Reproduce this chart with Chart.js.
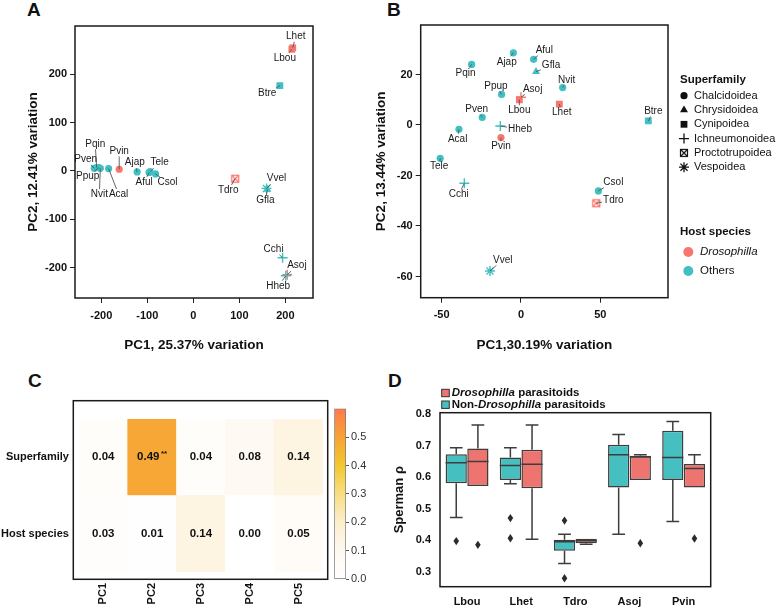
<!DOCTYPE html>
<html>
<head>
<meta charset="utf-8">
<script src="https://cdn.jsdelivr.net/npm/chart.js@4/dist/chart.umd.min.js"></script>
<style>
  body { margin: 0; width: 778px; height: 608px; background: #fff; position: relative; overflow: hidden; }
  canvas { position: absolute; }
  .tag { position: absolute; font: bold 19px/19px 'Liberation Sans', Arial, sans-serif; color: #111; }
</style>
</head>
<body>
<div class="tag" style="left:27px;top:0">A</div>
<div class="tag" style="left:387px;top:0">B</div>
<div class="tag" style="left:28px;top:371px">C</div>
<div class="tag" style="left:388px;top:371px">D</div>
<canvas id="pcaA" width="322" height="360" style="left:0;top:0"></canvas>
<canvas id="pcaB" width="408" height="360" style="left:370px;top:0"></canvas>
<canvas id="heat" width="330" height="248" style="left:0;top:360px"></canvas>
<canvas id="cbar" width="52" height="190" style="left:326px;top:400px"></canvas>
<canvas id="box" width="388" height="248" style="left:390px;top:360px"></canvas>
<script>
// ---- data ----
const species = ['Lbou', 'Lhet', 'Tdro', 'Asoj', 'Pvin', 'Pqin', 'Ajap', 'Aful', 'Gfla', 'Nvit',
  'Ppup', 'Btre', 'Pven', 'Hheb', 'Acal', 'Tele', 'Cchi', 'Csol', 'Vvel'];
const superfamily = ['Cynipoidea', 'Cynipoidea', 'Proctotrupoidea', 'Ichneumonoidea', 'Chalcidoidea',
  'Chalcidoidea', 'Chalcidoidea', 'Chalcidoidea', 'Chrysidoidea', 'Chalcidoidea', 'Chalcidoidea',
  'Cynipoidea', 'Chalcidoidea', 'Ichneumonoidea', 'Chalcidoidea', 'Chalcidoidea', 'Ichneumonoidea',
  'Chalcidoidea', 'Vespoidea'];
const host = ['Drosophilla', 'Drosophilla', 'Drosophilla', 'Drosophilla', 'Drosophilla',
  'Others', 'Others', 'Others', 'Others', 'Others', 'Others', 'Others', 'Others', 'Others',
  'Others', 'Others', 'Others', 'Others', 'Others'];

// panel A
const pc1A = [214, 216, 91, 204, -161, -210, -122, -96, 161, -202, -205, 188, -215, 201, -184, -94, 194, -82, 159];
const pc2A = [251, 254, -16, -214, 3.5, 7, -2, -3, -38, 5.5, 7, 176, 5.5, -216, 5, -1.5, -179, -6, -36];
// panel B
const pc1B = [-1, 24.2, 47.5, 0, -12.6, -31.1, -4.8, 8.0, 9.5, 26.3, -12.2, 80.3, -24.4, -13.0, -39.1, -50.9, -35.7, 48.8, -19.5];
const pc2B = [10, 8.3, -31.0, 11, -5.0, 24.0, 28.6, 26.0, 21.1, 14.8, 12.1, 1.6, 3.0, -0.4, -1.7, -13.2, -23.1, -26.1, -57.8];

const superfamilies = ['Chalcidoidea', 'Chrysidoidea', 'Cynipoidea', 'Ichneumonoidea', 'Proctotrupoidea', 'Vespoidea'];
const hosts = ['Drosophilla', 'Others'];

// panel C
const pcLabels = ['PC1', 'PC2', 'PC3', 'PC4', 'PC5'];
const heatRows = ['Host species', 'Superfamily'];
const superR2 = [0.04, 0.49, 0.04, 0.08, 0.14];
const hostR2 = [0.03, 0.01, 0.14, 0.00, 0.05];
const superSig = ['', '**', '', '', ''];
const hostSig = ['', '', '', '', ''];
const cbarTicks = [0, 0.1, 0.2, 0.3, 0.4, 0.5];
const cbarMax = 0.6;

// panel D
const boxCats = ['Lbou', 'Lhet', 'Tdro', 'Asoj', 'Pvin'];
const nonLow  = [0.472, 0.579, 0.326, 0.419, 0.459];
const nonQ1   = [0.581, 0.591, 0.366, 0.567, 0.591];
const nonMed  = [0.646, 0.637, 0.395, 0.671, 0.663];
const nonQ3   = [0.673, 0.663, 0.401, 0.703, 0.748];
const nonHigh = [0.694, 0.694, 0.419, 0.736, 0.777];
const nonOut  = [[0.397], [0.470, 0.406], [0.462, 0.279], [], []];
const droLow  = [0.572, 0.403, 0.387, 0.591, 0.567];
const droQ1   = [0.572, 0.565, 0.390, 0.591, 0.567];
const droMed  = [0.650, 0.641, 0.398, 0.664, 0.628];
const droQ3   = [0.691, 0.687, 0.404, 0.668, 0.642];
const droHigh = [0.766, 0.766, 0.405, 0.671, 0.671];
const droOut  = [[0.385], [], [], [0.390], [0.405]];

// ---- label placement (pixel offsets from the point) ----
const labelOffA = {
  Lhet: [3, -11.5], Lbou: [-7, 9], Btre: [-12.7, 8], Pqin: [-1.4, -23.7], Pven: [-8.6, -9],
  Ppup: [-11.3, 9], Nvit: [-1, 26.4], Acal: [10, 26], Pvin: [0, -18.3], Ajap: [-2.3, -9.3],
  Tele: [9.6, -9], Aful: [-5, 10], Csol: [12, 8.7], Tdro: [-7, 11.7], Vvel: [10, -9.7],
  Gfla: [-2, 11.3], Cchi: [-9, -8.4], Asoj: [9.7, -9], Hheb: [-7.7, 10.5]
};
const labelOffB = {
  Pqin: [-6, 8.4], Ajap: [-6.6, 9], Aful: [10.6, -9.3], Gfla: [15, -6], Nvit: [4, -7.7],
  Ppup: [-5.7, -8.6], Asoj: [11.7, -8.3], Lbou: [0, 11], Lhet: [2.4, 8.7], Btre: [5, -10],
  Pven: [-5.6, -8], Hheb: [19.7, 3.3], Acal: [-1.3, 10], Pvin: [0, 9], Tele: [-1, 8.4],
  Cchi: [-5.6, 11], Csol: [15, -8.7], Tdro: [17, -3.3], Vvel: [12.7, -11]
};

// ---- styling ----
const FONT = "'Liberation Sans', Arial, sans-serif";
Chart.defaults.font.family = FONT;
Chart.defaults.color = '#111';
Chart.defaults.animation = false;
Chart.defaults.events = [];

const RED = '#F8766D', TEAL = '#3FC0C3';
const BOX_RED = '#EE7470', BOX_TEAL = '#45BFC0';
const hostColor = h => h === 'Drosophilla' ? RED : TEAL;

function boxedCross(color) {
  const c = document.createElement('canvas');
  c.width = 10; c.height = 10;
  const g = c.getContext('2d');
  g.strokeStyle = color; g.lineWidth = 1.2;
  g.strokeRect(1.5, 1.5, 7, 7);
  g.beginPath(); g.moveTo(1.5, 1.5); g.lineTo(8.5, 8.5); g.moveTo(8.5, 1.5); g.lineTo(1.5, 8.5); g.stroke();
  return c;
}
const boxX = { Drosophilla: boxedCross(RED), Others: boxedCross(TEAL), legend: boxedCross('#111') };

const shapeOf = {
  Chalcidoidea: { style: 'circle', r: 3.6, line: false },
  Chrysidoidea: { style: 'triangle', r: 4.6, line: false },
  Cynipoidea: { style: 'rect', r: 4.8, line: false },
  Ichneumonoidea: { style: 'cross', r: 5, line: true },
  Proctotrupoidea: { style: 'boxX', r: 5, line: true },
  Vespoidea: { style: 'star', r: 5, line: true }
};
const styleFor = (sf, h) => shapeOf[sf].style === 'boxX' ? boxX[h] : shapeOf[sf].style;

const framePlugin = {
  id: 'frame',
  afterDraw(chart, args, opts) {
    const { ctx, chartArea: a } = chart;
    const [l, t, r, b] = opts.pad || [0, 0, 0, 0];
    ctx.save();
    ctx.strokeStyle = '#1a1a1a';
    ctx.lineWidth = 1.5;
    ctx.strokeRect(a.left - l, a.top - t, a.width + l + r, a.height + t + b);
    ctx.restore();
  }
};

const pointLabels = {
  id: 'pointLabels',
  afterDatasetsDraw(chart, args, opts) {
    const { ctx } = chart;
    const pts = chart.getDatasetMeta(0).data;
    ctx.save();
    ctx.font = '10px ' + FONT;
    ctx.textAlign = 'center';
    ctx.textBaseline = 'middle';
    pts.forEach((p, i) => {
      const name = species[i];
      const [dx, dy] = opts.offsets[name];
      const lx = p.x + dx, ly = p.y + dy;
      const hw = ctx.measureText(name).width / 2 + 1, hh = 5.5;
      const sx = dx ? hw / Math.abs(dx) : Infinity;
      const sy = dy ? hh / Math.abs(dy) : Infinity;
      const s = Math.min(sx, sy);
      if (s < 1) {
        ctx.strokeStyle = '#555';
        ctx.lineWidth = 0.9;
        ctx.beginPath();
        ctx.moveTo(p.x, p.y);
        ctx.lineTo(lx - dx * s, ly - dy * s);
        ctx.stroke();
      }
      ctx.fillStyle = '#1a1a1a';
      ctx.fillText(name, lx, ly);
    });
    ctx.restore();
  }
};

const pcaLegend = {
  id: 'pcaLegend',
  afterDraw(chart) {
    const { ctx } = chart;
    ctx.save();
    ctx.textBaseline = 'middle';
    ctx.fillStyle = '#111';
    ctx.strokeStyle = '#111';
    ctx.font = 'bold 11.5px ' + FONT;
    ctx.fillText('Superfamily', 310, 80);
    superfamilies.forEach((sf, i) => {
      const y = 95.7 + i * 14.3;
      const sh = shapeOf[sf];
      ctx.lineWidth = 1.3;
      Chart.helpers.drawPoint(ctx, {
        pointStyle: sh.style === 'boxX' ? boxX.legend : sh.style,
        radius: sh.r, rotation: 0, borderWidth: sh.line ? 1.3 : 0
      }, 314, y);
      ctx.font = '11px ' + FONT;
      ctx.fillText(sf, 324, y);
    });
    ctx.font = 'bold 11.5px ' + FONT;
    ctx.fillText('Host species', 310, 232);
    hosts.forEach((h, i) => {
      const y = 252 + i * 19;
      ctx.fillStyle = hostColor(h);
      ctx.beginPath(); ctx.arc(318.3, y, 5, 0, Math.PI * 2); ctx.fill();
      ctx.fillStyle = '#111';
      ctx.font = (h === 'Drosophilla' ? 'italic ' : '') + '11.5px ' + FONT;
      ctx.fillText(h, 330, y);
    });
    ctx.restore();
  }
};

function pcaChart(id, xs, ys, cfg) {
  return new Chart(document.getElementById(id), {
    type: 'scatter',
    data: {
      datasets: [{
        data: xs.map((x, i) => ({ x, y: ys[i] })),
        pointStyle: c => styleFor(superfamily[c.dataIndex], host[c.dataIndex]),
        pointRadius: c => shapeOf[superfamily[c.dataIndex]].r,
        backgroundColor: c => hostColor(host[c.dataIndex]),
        borderColor: c => hostColor(host[c.dataIndex]),
        borderWidth: c => shapeOf[superfamily[c.dataIndex]].line ? 1.4 : 0
      }]
    },
    options: {
      responsive: false,
      layout: { padding: cfg.padding },
      plugins: {
        legend: { display: false },
        tooltip: { enabled: false },
        frame: {},
        pointLabels: { offsets: cfg.offsets }
      },
      scales: {
        x: {
          type: 'linear', min: cfg.x[0], max: cfg.x[1],
          ticks: { stepSize: cfg.x[2], includeBounds: false, padding: 6, color: '#111', font: { size: 11, weight: 'bold' } },
          grid: { drawOnChartArea: false, tickLength: 5, color: '#222' },
          border: { display: false },
          title: { display: true, text: cfg.xTitle, color: '#111', font: { size: 13.5, weight: 'bold' }, padding: { top: 0, bottom: 7 } },
          afterFit: s => { s.height = cfg.xHeight; }
        },
        y: {
          type: 'linear', min: cfg.y[0], max: cfg.y[1],
          ticks: { stepSize: cfg.y[2], includeBounds: false, padding: 3, color: '#111', font: { size: 11, weight: 'bold' } },
          grid: { drawOnChartArea: false, tickLength: 5, color: '#222' },
          border: { display: false },
          title: { display: true, text: cfg.yTitle, color: '#111', font: { size: 13.5, weight: 'bold' }, padding: { top: cfg.yTitlePad, bottom: 0 } },
          afterFit: s => { s.width = cfg.yWidth; }
        }
      }
    },
    plugins: [framePlugin, pointLabels].concat(cfg.extra || [])
  });
}

pcaChart('pcaA', pc1A, pc2A, {
  padding: { left: 0, top: 26, right: 9, bottom: 0 },
  x: [-257, 260, 100], y: [-262, 299, 100],
  xTitle: 'PC1, 25.37% variation', yTitle: 'PC2, 12.41% variation',
  xHeight: 62, yWidth: 75, yTitlePad: 25, offsets: labelOffA
});

pcaChart('pcaB', pc1B, pc2B, {
  padding: { left: 0, top: 25, right: 110, bottom: 0 },
  x: [-63.2, 92.7, 50], y: [-68.4, 39.6, 20],
  xTitle: 'PC1,30.19% variation', yTitle: 'PC2, 13.44% variation',
  xHeight: 62.3, yWidth: 50.7, yTitlePad: 3.6, offsets: labelOffB, extra: [pcaLegend]
});

// ---- panel C heatmap ----
const heatStops = [[0, [255, 255, 255]], [0.1, [254, 249, 240]], [0.2, [252, 238, 205]],
  [0.3, [248, 222, 130]], [0.4, [243, 199, 48]], [0.5, [246, 163, 53]], [0.6, [255, 120, 78]]];
const rgb = c => `rgb(${c.map(Math.round).join(',')})`;
function heatColor(v) {
  for (let i = 1; i < heatStops.length; i++) {
    const [v0, c0] = heatStops[i - 1], [v1, c1] = heatStops[i];
    if (v <= v1) {
      const t = (v - v0) / (v1 - v0);
      return rgb(c0.map((c, k) => c + (c1[k] - c) * t));
    }
  }
  return rgb(heatStops[heatStops.length - 1][1]);
}

const cellText = {
  id: 'cellText',
  afterDatasetsDraw(chart) {
    const { ctx } = chart;
    const rows = [[hostR2, hostSig], [superR2, superSig]];
    ctx.save();
    ctx.fillStyle = '#111';
    ctx.textBaseline = 'middle';
    rows.forEach(([vals, sig], d) => {
      chart.getDatasetMeta(d).data.forEach((el, i) => {
        const txt = vals[i].toFixed(2);
        const cy = (el.y + el.base) / 2;
        ctx.font = 'bold 11.5px ' + FONT;
        const w1 = ctx.measureText(txt).width;
        ctx.font = 'bold 8px ' + FONT;
        const w2 = sig[i] ? ctx.measureText(sig[i]).width + 1.5 : 0;
        const x0 = el.x - (w1 + w2) / 2;
        ctx.textAlign = 'left';
        ctx.font = 'bold 11.5px ' + FONT;
        ctx.fillText(txt, x0, cy);
        if (sig[i]) {
          ctx.font = 'bold 8px ' + FONT;
          ctx.fillText(sig[i], x0 + w1 + 1.5, cy - 3);
        }
      });
    });
    ctx.restore();
  }
};

new Chart(document.getElementById('heat'), {
  type: 'bar',
  data: {
    labels: pcLabels,
    datasets: [
      { label: heatRows[0], data: hostR2.map(() => [0, 1]), backgroundColor: hostR2.map(heatColor) },
      { label: heatRows[1], data: superR2.map(() => [1, 2]), backgroundColor: superR2.map(heatColor) }
    ]
  },
  options: {
    responsive: false,
    datasets: { bar: { grouped: false, barPercentage: 1, categoryPercentage: 1, borderWidth: 0 } },
    layout: { padding: { left: 0, top: 59, right: 7.1, bottom: 0 } },
    plugins: { legend: { display: false }, tooltip: { enabled: false }, frame: { pad: [5.6, 18.3, 4.8, 7.3] } },
    scales: {
      x: {
        ticks: { minRotation: 90, maxRotation: 90, padding: 11, color: '#111', font: { size: 11, weight: 'bold' } },
        grid: { display: false, drawTicks: false },
        border: { display: false },
        afterFit: s => { s.height = 36; }
      },
      y: {
        min: 0, max: 2,
        afterBuildTicks: s => { s.ticks = [{ value: 0.5 }, { value: 1.5 }]; },
        ticks: { padding: 10, color: '#111', font: { size: 11, weight: 'bold' }, callback: v => heatRows[Math.floor(v)] },
        grid: { display: false, drawTicks: false },
        border: { display: false },
        afterFit: s => { s.width = 78.9; }
      }
    }
  },
  plugins: [framePlugin, cellText]
});

// colour bar
new Chart(document.getElementById('cbar'), {
  type: 'bar',
  data: {
    labels: [''],
    datasets: [{
      data: [[0, cbarMax]],
      borderColor: '#777', borderWidth: 1, borderSkipped: false,
      barPercentage: 1, categoryPercentage: 1,
      backgroundColor: c => {
        const ch = c.chart;
        if (!ch.chartArea) return '#fff';
        const ys = ch.scales.y;
        const g = ch.ctx.createLinearGradient(0, ys.getPixelForValue(0), 0, ys.getPixelForValue(cbarMax));
        heatStops.forEach(([v, col]) => g.addColorStop(v / cbarMax, rgb(col)));
        return g;
      }
    }]
  },
  options: {
    responsive: false,
    layout: { padding: { left: 8.3, top: 7.7, right: 0, bottom: 10.7 } },
    plugins: { legend: { display: false }, tooltip: { enabled: false } },
    scales: {
      x: { display: false },
      y: {
        position: 'right', min: 0, max: cbarMax,
        afterBuildTicks: s => { s.ticks = cbarTicks.map(v => ({ value: v })); },
        ticks: { padding: 2, color: '#333', font: { size: 11 }, callback: v => v.toFixed(1) },
        grid: { drawOnChartArea: false, tickLength: 3, color: '#555' },
        border: { display: false },
        afterFit: s => { s.width = 32; }
      }
    }
  }
});

// ---- panel D box plot ----
const boxStats = [
  { low: nonLow, med: nonMed, high: nonHigh, q1: nonQ1, q3: nonQ3, out: nonOut },
  { low: droLow, med: droMed, high: droHigh, q1: droQ1, q3: droQ3, out: droOut }
];

const boxParts = {
  id: 'boxParts',
  afterDatasetsDraw(chart) {
    const { ctx } = chart;
    const ys = chart.scales.y;
    ctx.save();
    ctx.strokeStyle = '#3d3d3d';
    ctx.fillStyle = '#2b2b2b';
    ctx.lineWidth = 1.5;
    boxStats.forEach((st, d) => {
      chart.getDatasetMeta(d).data.forEach((el, i) => {
        const half = el.width / 2, cap = el.width * 0.3;
        const yq1 = ys.getPixelForValue(st.q1[i]), yq3 = ys.getPixelForValue(st.q3[i]);
        const ylo = ys.getPixelForValue(st.low[i]), yhi = ys.getPixelForValue(st.high[i]);
        const ymed = ys.getPixelForValue(st.med[i]);
        ctx.beginPath();
        ctx.moveTo(el.x - half, ymed); ctx.lineTo(el.x + half, ymed);
        if (yhi < yq3 - 0.5) {
          ctx.moveTo(el.x, yq3); ctx.lineTo(el.x, yhi);
          ctx.moveTo(el.x - cap, yhi); ctx.lineTo(el.x + cap, yhi);
        }
        if (ylo > yq1 + 0.5) {
          ctx.moveTo(el.x, yq1); ctx.lineTo(el.x, ylo);
          ctx.moveTo(el.x - cap, ylo); ctx.lineTo(el.x + cap, ylo);
        }
        ctx.stroke();
        st.out[i].forEach(v => {
          const y = ys.getPixelForValue(v);
          ctx.beginPath();
          ctx.moveTo(el.x, y - 4.2); ctx.lineTo(el.x + 2.8, y);
          ctx.lineTo(el.x, y + 4.2); ctx.lineTo(el.x - 2.8, y);
          ctx.closePath(); ctx.fill();
        });
      });
    });
    ctx.restore();
  }
};

const boxLegend = {
  id: 'boxLegend',
  afterDraw(chart) {
    const { ctx } = chart;
    const rows = [
      { color: BOX_RED, y: 33, parts: [['Drosophilla', true], [' parasitoids', false]] },
      { color: BOX_TEAL, y: 44.7, parts: [['Non-', false], ['Drosophilla', true], [' parasitoids', false]] }
    ];
    ctx.save();
    ctx.textBaseline = 'middle';
    rows.forEach(r => {
      ctx.fillStyle = r.color;
      ctx.fillRect(51.7, r.y - 3.7, 7.6, 7.4);
      ctx.strokeStyle = '#333'; ctx.lineWidth = 1;
      ctx.strokeRect(51.7, r.y - 3.7, 7.6, 7.4);
      ctx.fillStyle = '#111';
      let x = 61.7;
      r.parts.forEach(([t, it]) => {
        ctx.font = (it ? 'italic ' : '') + 'bold 11.5px ' + FONT;
        ctx.fillText(t, x, r.y);
        x += ctx.measureText(t).width;
      });
    });
    ctx.restore();
  }
};

new Chart(document.getElementById('box'), {
  type: 'bar',
  data: {
    labels: boxCats,
    datasets: [
      { label: 'Non-Drosophilla parasitoids', data: nonQ1.map((q, i) => [q, nonQ3[i]]), backgroundColor: BOX_TEAL },
      { label: 'Drosophilla parasitoids', data: droQ1.map((q, i) => [q, droQ3[i]]), backgroundColor: BOX_RED }
    ]
  },
  options: {
    responsive: false,
    datasets: { bar: { borderColor: '#3d3d3d', borderWidth: 1.5, borderSkipped: false, categoryPercentage: 0.8, barPercentage: 0.98 } },
    layout: { padding: { left: 0, top: 52.7, right: 67.3, bottom: 0 } },
    plugins: { legend: { display: false }, tooltip: { enabled: false }, frame: {} },
    scales: {
      x: {
        ticks: { padding: 8.3, color: '#111', font: { size: 11, weight: 'bold' } },
        grid: { display: false, drawTicks: false },
        border: { display: false },
        afterFit: s => { s.height = 21.3; }
      },
      y: {
        min: 0.252, max: 0.805,
        ticks: { stepSize: 0.1, includeBounds: false, padding: 9, color: '#111', font: { size: 11, weight: 'bold' }, callback: v => v.toFixed(1) },
        grid: { display: false, drawTicks: false },
        border: { display: false },
        title: { display: true, text: 'Sperman ρ', color: '#111', font: { size: 13, weight: 'bold' }, padding: { top: 1.2, bottom: 0 } },
        afterFit: s => { s.width = 50; }
      }
    }
  },
  plugins: [framePlugin, boxParts, boxLegend]
});
</script>
</body>
</html>
